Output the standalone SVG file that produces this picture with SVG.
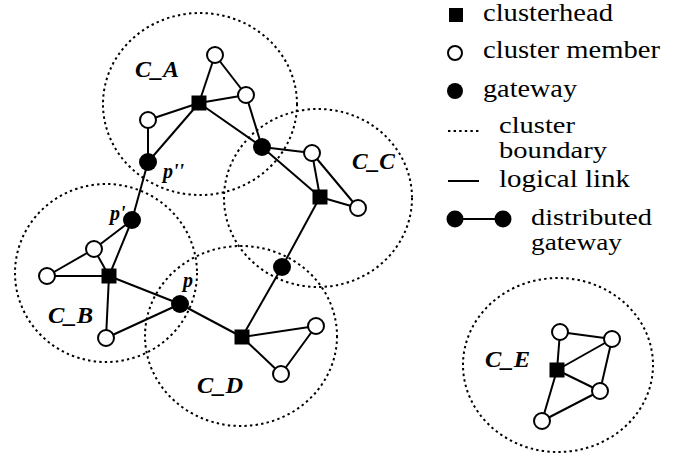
<svg xmlns="http://www.w3.org/2000/svg" width="677" height="460" viewBox="0 0 677 460">
  <style>
    .bound { fill: none; stroke: #000; stroke-width: 2; stroke-dasharray: 2.4 3.2; }
    .link { stroke: #000; stroke-width: 2; fill: none; }
    .head { fill: #000; }
    .member { fill: #fff; stroke: #000; stroke-width: 2; }
    .gw { fill: #000; }
    .clabel { font-family: "Liberation Serif", "Times New Roman", serif; font-weight: bold; font-style: italic; font-size: 23px; fill: #000; }
    .plabel { font-family: "Liberation Serif", "Times New Roman", serif; font-weight: bold; font-style: italic; font-size: 20px; fill: #000; }
    .legend { font-family: "Liberation Serif", "Times New Roman", serif; font-size: 25px; fill: #000; }
    .legend2 { font-family: "Liberation Serif", "Times New Roman", serif; font-size: 22.5px; fill: #000; }
  </style>
  <rect width="677" height="460" fill="#fff"/>

  <!-- cluster boundaries -->
  <g id="boundaries">
    <ellipse class="bound" cx="200" cy="104" rx="97" ry="91"/>
    <ellipse class="bound" cx="106" cy="273" rx="91" ry="89"/>
    <ellipse class="bound" cx="318" cy="198" rx="94" ry="89"/>
    <ellipse class="bound" cx="241" cy="336" rx="96" ry="90"/>
    <ellipse class="bound" cx="558" cy="365" rx="95" ry="87"/>
  </g>

  <!-- logical links -->
  <g id="links">
    <!-- C_A -->
    <line class="link" x1="199" y1="103" x2="215" y2="55"/>
    <line class="link" x1="215" y1="55" x2="246" y2="95"/>
    <line class="link" x1="199" y1="103" x2="246" y2="95"/>
    <line class="link" x1="199" y1="103" x2="148" y2="120"/>
    <line class="link" x1="148" y1="120" x2="148" y2="162"/>
    <line class="link" x1="199" y1="103" x2="148" y2="162"/>
    <line class="link" x1="199" y1="103" x2="262" y2="147"/>
    <line class="link" x1="246" y1="95" x2="262" y2="147"/>
    <line class="link" x1="148" y1="162" x2="132" y2="220"/>
    <!-- C_C -->
    <line class="link" x1="262" y1="147" x2="312" y2="153"/>
    <line class="link" x1="262" y1="147" x2="320" y2="197"/>
    <line class="link" x1="320" y1="197" x2="312" y2="153"/>
    <line class="link" x1="312" y1="153" x2="358" y2="208"/>
    <line class="link" x1="320" y1="197" x2="358" y2="208"/>
    <line class="link" x1="320" y1="197" x2="282" y2="267"/>
    <line class="link" x1="282" y1="267" x2="242" y2="337"/>
    <!-- C_B -->
    <line class="link" x1="132" y1="220" x2="94" y2="249"/>
    <line class="link" x1="132" y1="220" x2="109" y2="276"/>
    <line class="link" x1="94" y1="249" x2="47" y2="276"/>
    <line class="link" x1="94" y1="249" x2="109" y2="276"/>
    <line class="link" x1="47" y1="276" x2="109" y2="276"/>
    <line class="link" x1="109" y1="276" x2="106" y2="338"/>
    <line class="link" x1="106" y1="338" x2="180" y2="304"/>
    <line class="link" x1="109" y1="276" x2="180" y2="304"/>
    <line class="link" x1="180" y1="304" x2="242" y2="337"/>
    <!-- C_D -->
    <line class="link" x1="242" y1="337" x2="316" y2="326"/>
    <line class="link" x1="242" y1="337" x2="281" y2="374"/>
    <line class="link" x1="316" y1="326" x2="281" y2="374"/>
    <!-- C_E -->
    <line class="link" x1="557" y1="370" x2="560" y2="332"/>
    <line class="link" x1="560" y1="332" x2="612" y2="339"/>
    <line class="link" x1="557" y1="370" x2="612" y2="339"/>
    <line class="link" x1="612" y1="339" x2="600" y2="391"/>
    <line class="link" x1="557" y1="370" x2="600" y2="391"/>
    <line class="link" x1="557" y1="370" x2="542" y2="421"/>
    <line class="link" x1="542" y1="421" x2="600" y2="391"/>
  </g>

  <!-- cluster C_A -->
  <g id="cluster-A">
    <rect id="head-A" class="head" x="191.5" y="95.5" width="15" height="15"/>
    <circle class="member" cx="215" cy="55" r="8"/>
    <circle class="member" cx="246" cy="95" r="8"/>
    <circle class="member" cx="148" cy="120" r="8"/>
    <text class="clabel" x="135" y="77" textLength="44" lengthAdjust="spacingAndGlyphs">C_A</text>
  </g>

  <!-- cluster C_B -->
  <g id="cluster-B">
    <rect id="head-B" class="head" x="101.5" y="268.5" width="15" height="15"/>
    <circle class="member" cx="94" cy="249" r="8"/>
    <circle class="member" cx="47" cy="276" r="8"/>
    <circle class="member" cx="106" cy="338" r="8"/>
    <text class="clabel" x="48" y="323" textLength="45" lengthAdjust="spacingAndGlyphs">C_B</text>
  </g>

  <!-- cluster C_C -->
  <g id="cluster-C">
    <rect id="head-C" class="head" x="312.5" y="189.5" width="15" height="15"/>
    <circle class="member" cx="312" cy="153" r="8"/>
    <circle class="member" cx="358" cy="208" r="8"/>
    <text class="clabel" x="352" y="169" textLength="43" lengthAdjust="spacingAndGlyphs">C_C</text>
  </g>

  <!-- cluster C_D -->
  <g id="cluster-D">
    <rect id="head-D" class="head" x="234.5" y="329.5" width="15" height="15"/>
    <circle class="member" cx="316" cy="326" r="8"/>
    <circle class="member" cx="281" cy="374" r="8"/>
    <text class="clabel" x="197" y="393" textLength="46" lengthAdjust="spacingAndGlyphs">C_D</text>
  </g>

  <!-- cluster C_E -->
  <g id="cluster-E">
    <rect id="head-E" class="head" x="549.5" y="362.5" width="15" height="15"/>
    <circle class="member" cx="560" cy="332" r="8"/>
    <circle class="member" cx="612" cy="339" r="8"/>
    <circle class="member" cx="600" cy="391" r="8"/>
    <circle class="member" cx="542" cy="421" r="8"/>
    <text class="clabel" x="485" y="367" textLength="45" lengthAdjust="spacingAndGlyphs">C_E</text>
  </g>

  <!-- gateways -->
  <g id="gateway-p2">
    <circle class="gw" cx="148" cy="162" r="9"/>
    <text class="plabel" x="163" y="178">p''</text>
  </g>
  <g id="gateway-p1">
    <circle class="gw" cx="132" cy="220" r="9"/>
    <text class="plabel" x="110" y="220">p'</text>
  </g>
  <g id="gateway-p">
    <circle class="gw" cx="180" cy="304" r="9"/>
    <text class="plabel" x="183" y="287">p</text>
  </g>
  <g id="gateway-AC">
    <circle class="gw" cx="262" cy="147" r="9"/>
  </g>
  <g id="gateway-CD">
    <circle class="gw" cx="282" cy="267" r="9"/>
  </g>

  <!-- legend -->
  <g id="legend">
    <rect class="head" x="449" y="8" width="14" height="14"/>
    <text class="legend" x="483" y="21" textLength="130" lengthAdjust="spacingAndGlyphs">clusterhead</text>
    <circle class="member" cx="455" cy="53" r="7"/>
    <text class="legend" x="483" y="58" textLength="177" lengthAdjust="spacingAndGlyphs">cluster member</text>
    <circle class="gw" cx="455" cy="91" r="8"/>
    <text class="legend" x="483" y="97" textLength="94" lengthAdjust="spacingAndGlyphs">gateway</text>
    <line class="bound" x1="448" y1="131" x2="479" y2="131"/>
    <text class="legend2"><tspan x="499" y="133" textLength="76" lengthAdjust="spacingAndGlyphs">cluster</tspan><tspan x="499" y="158" textLength="108" lengthAdjust="spacingAndGlyphs">boundary</tspan></text>
    <line class="link" x1="448" y1="181" x2="479" y2="181"/>
    <text class="legend" x="499" y="187" textLength="131" lengthAdjust="spacingAndGlyphs">logical link</text>
    <line class="link" x1="455" y1="219" x2="503" y2="219"/>
    <circle class="gw" cx="455" cy="219" r="8.5"/>
    <circle class="gw" cx="503" cy="219" r="8.5"/>
    <text class="legend2"><tspan x="531" y="225" textLength="121" lengthAdjust="spacingAndGlyphs">distributed</tspan><tspan x="531" y="250" textLength="91" lengthAdjust="spacingAndGlyphs">gateway</tspan></text>
  </g>
</svg>
